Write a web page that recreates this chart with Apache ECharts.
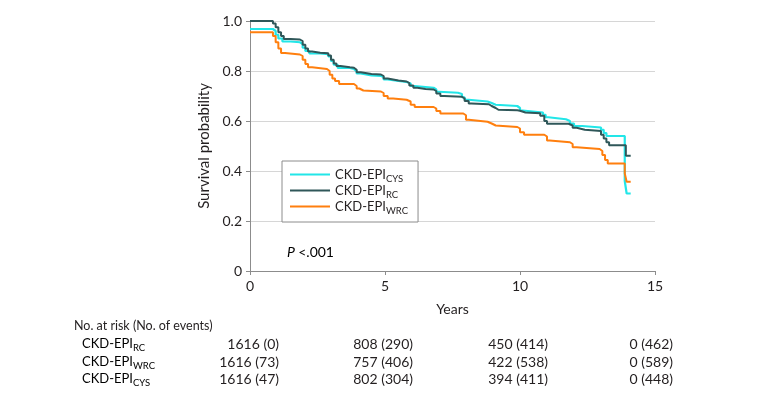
<!DOCTYPE html>
<html>
<head>
<meta charset="utf-8">
<script src="https://cdn.jsdelivr.net/npm/echarts@6/dist/echarts.min.js"></script>
<style>
html,body{margin:0;padding:0;background:#fff;}
#c{width:780px;height:402px;}
</style>
</head>
<body>
<div id="c"></div>
<script>
// ---- data ----
const seriesNames = ['CYS', 'RC', 'WRC'];

const cysTimes = [0, 0.85, 0.95, 1.05, 1.2, 1.5, 1.85, 1.95, 2.05, 2.2, 2.6, 2.9, 3.0, 3.1, 3.25, 3.7, 3.85, 3.95, 4.1, 4.5, 4.85, 4.95, 5.1, 5.5, 5.8, 5.95, 6.1, 6.8, 6.9, 7.0, 7.7, 7.85, 7.95, 8.1, 8.8, 8.95, 9.1, 9.9, 10.0, 10.1, 10.85, 10.95, 11.05, 11.7, 11.85, 12.0, 12.3, 13.0, 13.1, 13.2, 13.88, 13.95, 14.1];
const cysValues = [0.968, 0.96, 0.945, 0.93, 0.918, 0.915, 0.908, 0.893, 0.88, 0.87, 0.867, 0.858, 0.84, 0.825, 0.812, 0.808, 0.8, 0.79, 0.782, 0.78, 0.776, 0.766, 0.76, 0.756, 0.75, 0.74, 0.733, 0.726, 0.717, 0.713, 0.708, 0.695, 0.685, 0.678, 0.672, 0.665, 0.66, 0.652, 0.642, 0.634, 0.625, 0.615, 0.607, 0.6, 0.59, 0.58, 0.574, 0.565, 0.552, 0.54, 0.36, 0.31, 0.31];

const rcTimes = [0, 0.85, 0.95, 1.05, 1.15, 1.25, 1.5, 1.85, 1.95, 2.05, 2.15, 2.3, 2.6, 2.9, 3.0, 3.1, 3.2, 3.35, 3.7, 3.85, 3.95, 4.1, 4.5, 4.85, 4.95, 5.1, 5.5, 5.8, 5.9, 6.05, 6.2, 6.5, 6.8, 6.9, 7.05, 7.2, 7.85, 7.95, 8.1, 8.2, 8.85, 8.95, 9.1, 9.2, 9.9, 10.0, 10.2, 10.75, 10.9, 11.0, 11.8, 11.95, 12.1, 12.4, 13.0, 13.1, 13.2, 13.3, 13.92, 14.1];
const rcValues = [1.0, 0.99, 0.975, 0.955, 0.94, 0.928, 0.926, 0.92, 0.905, 0.89, 0.878, 0.873, 0.871, 0.862, 0.845, 0.83, 0.82, 0.815, 0.813, 0.805, 0.795, 0.788, 0.786, 0.78, 0.77, 0.762, 0.758, 0.752, 0.742, 0.733, 0.728, 0.726, 0.72, 0.71, 0.7, 0.697, 0.69, 0.68, 0.67, 0.667, 0.66, 0.652, 0.645, 0.643, 0.641, 0.634, 0.631, 0.621, 0.6, 0.589, 0.582, 0.573, 0.565, 0.56, 0.545, 0.53, 0.515, 0.503, 0.461, 0.461];

const wrcTimes = [0, 0.85, 0.95, 1.05, 1.15, 1.3, 1.85, 1.95, 2.05, 2.15, 2.3, 2.85, 2.95, 3.05, 3.15, 3.3, 3.85, 3.95, 4.05, 4.2, 4.85, 4.95, 5.1, 5.3, 5.8, 5.95, 6.1, 6.8, 6.9, 7.05, 7.9, 8.0, 8.1, 8.8, 8.95, 9.1, 9.9, 10.0, 10.15, 10.9, 11.0, 11.1, 11.85, 11.95, 12.1, 12.95, 13.05, 13.15, 13.25, 13.88, 13.95, 14.1];
const wrcValues = [0.955, 0.94, 0.915, 0.89, 0.872, 0.866, 0.86, 0.845, 0.828, 0.815, 0.808, 0.8, 0.785, 0.77, 0.76, 0.748, 0.74, 0.73, 0.722, 0.718, 0.712, 0.7, 0.69, 0.685, 0.678, 0.665, 0.656, 0.65, 0.64, 0.63, 0.623, 0.605, 0.597, 0.59, 0.582, 0.576, 0.57, 0.555, 0.545, 0.538, 0.522, 0.515, 0.508, 0.495, 0.488, 0.48, 0.464, 0.444, 0.43, 0.39, 0.357, 0.357];

const xTicks = [0, 5, 10, 15];
const yTicks = [0, 0.2, 0.4, 0.6, 0.8, 1.0];

const riskHeader = 'No. at risk (No. of events)';
const riskRows = ['RC', 'WRC', 'CYS'];
const riskRC  = ['1616 (0)', '808 (290)', '450 (414)', '0 (462)'];
const riskWRC = ['1616 (73)', '757 (406)', '422 (538)', '0 (589)'];
const riskCYS = ['1616 (47)', '802 (304)', '394 (411)', '0 (448)'];
const pText = '<.001';

// ---- style ----
const colors = { CYS: '#22e6e8', RC: '#2f5759', WRC: '#ff7f0e' };
const FONT = 'Lato';
const TXT = '#231f20';

function zip(t, v) { return t.map((x, i) => [x, v[i]]); }
const dataMap = { CYS: zip(cysTimes, cysValues), RC: zip(rcTimes, rcValues), WRC: zip(wrcTimes, wrcValues) };

const subRich = {
  m: { fontFamily: FONT, fontSize: 13, color: TXT, lineHeight: 18 },
  s: { fontFamily: FONT, fontSize: 9.5, color: TXT, lineHeight: 10, verticalAlign: 'bottom' }
};
const legRich = {
  m: { fontFamily: FONT, fontSize: 13, color: TXT, lineHeight: 19 },
  s: { fontFamily: FONT, fontSize: 9.5, color: TXT, lineHeight: 10, verticalAlign: 'bottom' }
};

const chart = echarts.init(document.getElementById('c'), null, { renderer: 'canvas' });

const colRight = [279, 413, 548, 673];
const rowY = [344, 362, 379];
const riskData = { RC: riskRC, WRC: riskWRC, CYS: riskCYS };
const graphics = [];
graphics.push({ type: 'text', x: 74, y: 326, style: { text: riskHeader, font: '12.5px "' + FONT + '"', fill: TXT, verticalAlign: 'middle', align: 'left' } });
riskRows.forEach((r, i) => {
  graphics.push({ type: 'text', x: 82, y: rowY[i], style: { text: '{m|CKD-EPI}{s|' + r + '}', rich: subRich, verticalAlign: 'middle', align: 'left' } });
  riskData[r].forEach((s, j) => {
    graphics.push({ type: 'text', x: colRight[j], y: rowY[i], style: { text: s, font: '14px "' + FONT + '"', fill: TXT, verticalAlign: 'middle', align: 'right' } });
  });
});
graphics.push({ type: 'text', x: 287, y: 252, style: { text: '{i|P} {m|' + pText + '}', rich: { i: { fontFamily: FONT, fontSize: 14, fontStyle: 'italic', color: TXT }, m: { fontFamily: FONT, fontSize: 14, color: TXT } }, verticalAlign: 'middle', align: 'left' } });

chart.setOption({
  animation: false,
  backgroundColor: '#fff',
  grid: { left: 250, right: 125, top: 21, bottom: 131, containLabel: false },
  xAxis: {
    type: 'value', min: 0, max: 15, interval: 5,
    name: 'Years', nameLocation: 'middle', nameGap: 31,
    nameTextStyle: { fontFamily: FONT, fontSize: 14, color: TXT },
    axisLine: { show: true, lineStyle: { color: '#8c8c8c', width: 1 } },
    axisTick: { show: true, length: 4, lineStyle: { color: '#8c8c8c' } },
    axisLabel: { fontFamily: FONT, fontSize: 14, color: TXT, margin: 8,
      formatter: v => xTicks.indexOf(v) >= 0 ? String(v) : '' },
    splitLine: { show: false }
  },
  yAxis: {
    type: 'value', min: 0, max: 1, interval: 0.2,
    name: 'Survival probability', nameLocation: 'middle', nameGap: 26,
    nameTextStyle: { fontFamily: FONT, fontSize: 15, color: TXT },
    axisLine: { show: true, lineStyle: { color: '#8c8c8c', width: 1 } },
    axisTick: { show: true, length: 4, lineStyle: { color: '#8c8c8c' } },
    axisLabel: { fontFamily: FONT, fontSize: 14, color: TXT, margin: 8,
      formatter: v => { const t = yTicks.find(y => Math.abs(y - v) < 1e-9); return t === undefined ? '' : (t === 0 ? '0' : t.toFixed(1)); } },
    splitLine: { show: true, lineStyle: { color: '#d6d6d6', width: 1 } }
  },
  legend: {
    orient: 'vertical', left: 282, top: 161,
    padding: [7, 10, 6, 8], itemGap: 0,
    itemWidth: 40, itemHeight: 14,
    borderColor: '#8c8c8c', borderWidth: 1, borderRadius: 0,
    backgroundColor: '#fff',
    data: seriesNames.map(n => ({ name: n, icon: 'path://M0,6 L40,6 L40,8 L0,8 Z' })),
    formatter: n => '{m|CKD-EPI}{s|' + n + '}',
    textStyle: { rich: legRich, padding: [0, 0, 0, 0] }
  },
  series: seriesNames.map(n => ({
    name: n, type: 'line', step: 'end', symbol: 'none', showSymbol: false,
    data: dataMap[n],
    lineStyle: { color: colors[n], width: n === 'CYS' ? 2.2 : 2 },
    itemStyle: { color: colors[n] },
    z: n === 'RC' ? 3 : 2
  })),
  graphic: graphics
});
</script>
</body>
</html>
